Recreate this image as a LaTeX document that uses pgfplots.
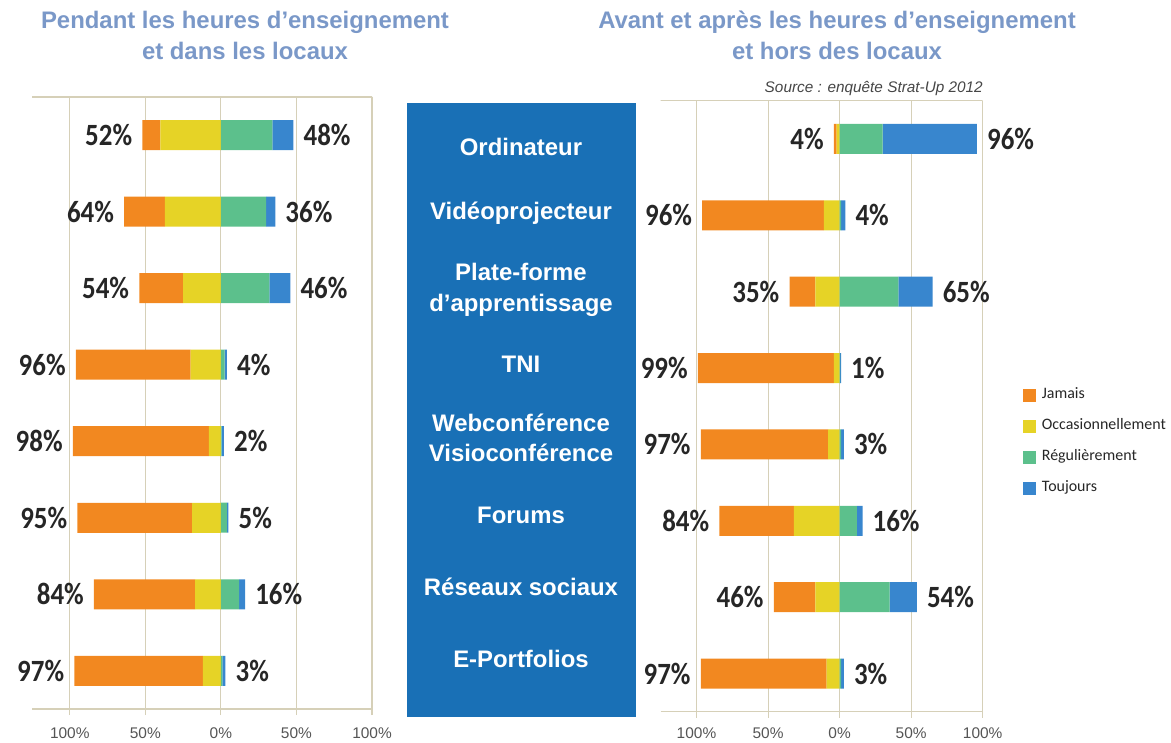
\documentclass[border=0pt]{standalone}
\usepackage{fontspec}
\setmainfont{Liberation Sans}
\newfontfamily\carlito{Carlito}
\usepackage{graphicx}
\usepackage{pgfplots}
\pgfplotsset{compat=1.18}
\definecolor{cJam}{RGB}{242,136,32}
\definecolor{cOcc}{RGB}{230,211,38}
\definecolor{cReg}{RGB}{92,192,140}
\definecolor{cTou}{RGB}{56,134,206}
\definecolor{gridc}{RGB}{214,208,184}
\definecolor{titlec}{RGB}{122,152,200}
\definecolor{boxc}{RGB}{25,112,182}
\definecolor{labc}{RGB}{38,38,38}
\definecolor{tickc}{RGB}{85,85,85}
\definecolor{srcc}{RGB}{70,70,70}

\pgfplotsset{
  frame/.style={scale only axis, xmin=-125, xmax=100, ymin=0.5, ymax=8.5,
    y dir=reverse, ytick=\empty, anchor=south west},
  base/.style={frame, xbar stacked, bar width=30bp},
  gridaxis/.style={base, hide y axis,
    axis line style={draw=gridc, line width=1.2pt},
    xtick={-100,-50,0,50,100},
    xticklabels={100\%,50\%,0\%,50\%,100\%},
    xmajorgrids, major grid style={draw=gridc, line width=1.1pt},
    tick style={draw=gridc, line width=1.1pt},
    tick align=outside, major tick length=6bp, xtick pos=left,
    xticklabel style={font=\fontsize{15.5}{18}\selectfont, text=tickc, yshift=-9bp}},
  posaxis/.style={base, hide axis},
  labaxis/.style={frame, hide axis},
  neglab/.style={nodes near coords={\scalebox{1}[1.15]{\pgfplotspointmeta}},
    point meta=explicit symbolic, nodes near coords align=horizontal,
    every node near coord/.append style={anchor=east, inner sep=0pt, xshift=-10bp,
      font=\carlito\bfseries\fontsize{27}{30}\selectfont, text=labc}},
  poslab/.style={nodes near coords={\scalebox{1}[1.15]{\pgfplotspointmeta}},
    point meta=explicit symbolic, nodes near coords align=horizontal,
    every node near coord/.append style={anchor=west, inner sep=0pt, xshift=10bp,
      font=\carlito\bfseries\fontsize{27}{30}\selectfont, text=labc}},
}

\begin{document}
\begin{tikzpicture}[x=1bp,y=1bp]
\useasboundingbox (0,0) rectangle (1171,743);

% titles
\begin{scope}[every node/.style={anchor=base, inner sep=0pt, text=titlec, font=\bfseries\fontsize{24}{28}\selectfont}]
\node at (245,714) {Pendant les heures d’enseignement};
\node at (245,683.5) {et dans les locaux};
\node at (837,714) {Avant et après les heures d’enseignement};
\node at (837,683.5) {et hors des locaux};
\end{scope}
\node[anchor=base east, inner sep=0pt, text=srcc, font=\itshape\fontsize{15.4}{18}\selectfont] at (983,650) {Source : enquête Strat-Up 2012};

% central box with categories
\fill[boxc] (406.7,26.3) rectangle (635.5,640.3);
\begin{scope}[every node/.style={anchor=base, inner sep=0pt, text=white, font=\bfseries\fontsize{24}{28}\selectfont}]
\node at (521,587.7) {Ordinateur};
\node at (521,523.7) {Vidéoprojecteur};
\node at (521,462.7) {Plate-forme};
\node at (521,431.1) {d’apprentissage};
\node at (521,370.4) {TNI};
\node at (521,311.4) {Webconférence};
\node at (521,281.7) {Visioconférence};
\node at (521,219.4) {Forums};
\node at (521,147.1) {Réseaux sociaux};
\node at (521,75.1) {E-Portfolios};
\end{scope}

% ---------- LEFT: pendant les heures ----------
\begin{axis}[gridaxis, at={(32bp,34bp)}, width=340bp, height=612bp]
\addplot[fill=cOcc, draw=none] coordinates {(-40,1) (-37,2) (-25,3) (-20,4) (-8,5) (-19,6) (-17,7) (-12,8)};
\addplot[fill=cJam, draw=none] coordinates {(-12,1) (-27,2) (-29,3) (-76,4) (-90,5) (-76,6) (-67,7) (-85,8)};
\end{axis}
\begin{axis}[posaxis, at={(32bp,34bp)}, width=340bp, height=612bp]
\addplot[fill=cReg, draw=none] coordinates {(34,1) (30,2) (32,3) (2.5,4) (0.5,5) (4,6) (12,7) (1,8)};
\addplot[fill=cTou, draw=none] coordinates {(14,1) (6,2) (14,3) (1.5,4) (1.5,5) (1,6) (4,7) (2,8)};
\end{axis}
\begin{axis}[labaxis, at={(32bp,34bp)}, width=340bp, height=612bp]
\addplot[draw=none, neglab] coordinates {(-52,1)[52\%] (-64,2)[64\%] (-54,3)[54\%] (-96,4)[96\%] (-98,5)[98\%] (-95,6)[95\%] (-84,7)[84\%] (-97,8)[97\%]};
\addplot[draw=none, poslab] coordinates {(48,1)[48\%] (36,2)[36\%] (46,3)[46\%] (4,4)[4\%] (2,5)[2\%] (5,6)[5\%] (16,7)[16\%] (3,8)[3\%]};
\end{axis}

% ---------- RIGHT: avant et apres ----------
\begin{axis}[gridaxis, at={(660.7bp,31.3bp)}, width=322bp, height=611bp,
  xticklabel style={yshift=3bp}]
\addplot[fill=cOcc, draw=none] coordinates {(-2,1) (-11,2) (-17,3) (-4,4) (-8,5) (-32,6) (-17,7) (-9,8)};
\addplot[fill=cJam, draw=none] coordinates {(-2,1) (-85,2) (-18,3) (-95,4) (-89,5) (-52,6) (-29,7) (-88,8)};
\end{axis}
\begin{axis}[posaxis, at={(660.7bp,31.3bp)}, width=322bp, height=611bp]
\addplot[fill=cReg, draw=none] coordinates {(30,1) (1,2) (41,3) (0.3,4) (1,5) (12,6) (35,7) (1,8)};
\addplot[fill=cTou, draw=none] coordinates {(66,1) (3,2) (24,3) (0.7,4) (2,5) (4,6) (19,7) (2,8)};
\end{axis}
\begin{axis}[labaxis, at={(660.7bp,31.3bp)}, width=322bp, height=611bp]
\addplot[draw=none, neglab] coordinates {(-4,1)[4\%] (-96,2)[96\%] (-35,3)[35\%] (-99,4)[99\%] (-97,5)[97\%] (-84,6)[84\%] (-46,7)[46\%] (-97,8)[97\%]};
\addplot[draw=none, poslab] coordinates {(96,1)[96\%] (4,2)[4\%] (65,3)[65\%] (1,4)[1\%] (3,5)[3\%] (16,6)[16\%] (54,7)[54\%] (3,8)[3\%]};
\end{axis}

% ---------- legend ----------
\begin{axis}[hide axis, scale only axis, anchor=south west, at={(660.7bp,31.3bp)}, width=322bp, height=611bp,
  xmin=0, xmax=1, ymin=0, ymax=1,
  legend style={at={(1.126,0.531)}, anchor=north west, draw=none, fill=none,
    inner sep=0pt, row sep=16bp, column sep=6bp,
    font=\carlito\fontsize{16}{19}\selectfont, text=labc,
    nodes={inner sep=0pt, text height=11bp, text depth=4bp}},
  legend cell align=left,
  legend image code/.code={\fill[#1] (0bp,-6bp) rectangle (12bp,6bp);}]
\addlegendimage{cJam}
\addlegendimage{cOcc}
\addlegendimage{cReg}
\addlegendimage{cTou}
\legend{Jamais, Occasionnellement, Régulièrement, Toujours}
\end{axis}
\end{tikzpicture}
\end{document}
